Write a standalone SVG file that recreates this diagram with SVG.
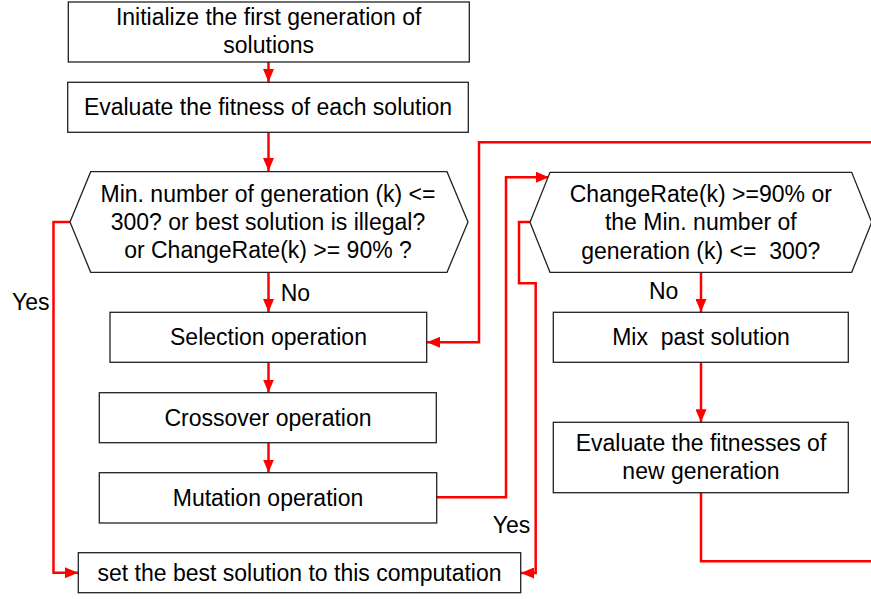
<svg xmlns="http://www.w3.org/2000/svg" width="871" height="599" viewBox="0 0 871 599">
<style>
.box{fill:#fff;stroke:#222;stroke-width:1.3}
.t{font-family:"Liberation Sans",Arial,sans-serif;font-size:23px;fill:#000;text-anchor:middle;white-space:pre}
.l{font-family:"Liberation Sans",Arial,sans-serif;font-size:23px;fill:#000}
.c{fill:none;stroke:#ff0000;stroke-width:2.5}
</style>
<defs>
<marker id="ah" markerUnits="userSpaceOnUse" markerWidth="13" markerHeight="11" refX="13" refY="5.5" orient="auto">
<path d="M0,0 L13,5.5 L0,11 z" fill="#ff0000"/>
</marker>
</defs>
<rect width="871" height="599" fill="#fff"/>
<g id="connectors">
<path class="c" d="M268.5,62 V82" marker-end="url(#ah)"/>
<path class="c" d="M268.5,132 V171" marker-end="url(#ah)"/>
<path class="c" d="M268.5,272 V312" marker-end="url(#ah)"/>
<path class="c" d="M268.5,362 V392.5" marker-end="url(#ah)"/>
<path class="c" d="M268.5,442.5 V472.5" marker-end="url(#ah)"/>
<path class="c" d="M70,222 H53.5 V572.7 H78" marker-end="url(#ah)"/>
<path class="c" d="M871,142.3 H479 V342.3 H427" marker-end="url(#ah)"/>
<path class="c" d="M436.5,497.3 H506 V177.3 H549" marker-end="url(#ah)"/>
<path class="c" d="M530,222 H519 V283.3 H535.7 V573 H521" marker-end="url(#ah)"/>
<path class="c" d="M701,272.3 V312" marker-end="url(#ah)"/>
<path class="c" d="M701,362.3 V422.3" marker-end="url(#ah)"/>
<path class="c" d="M701,492.7 V561.3 H871"/>
</g>
<g id="init">
<rect class="box" x="68.3" y="2" width="401" height="60"/>
<text class="t" x="268.7" y="25">Initialize the first generation of</text>
<text class="t" x="268.7" y="53">solutions</text>
</g>
<g id="evaluate">
<rect class="box" x="67.7" y="82.3" width="400.6" height="50"/>
<text class="t" x="268" y="115">Evaluate the fitness of each solution</text>
</g>
<g id="decision1">
<polygon class="box" points="70,222 90.7,171.7 447,171.7 468,222 447,272.3 90.7,272.3"/>
<text class="t" x="268" y="201.5">Min. number of generation (k) &lt;=</text>
<text class="t" x="268" y="230">300? or best solution is illegal?</text>
<text class="t" x="268" y="257.5">or ChangeRate(k) &gt;= 90% ?</text>
</g>
<g id="selection">
<rect class="box" x="110" y="312.3" width="316.7" height="50"/>
<text class="t" x="268.5" y="345">Selection operation</text>
</g>
<g id="crossover">
<rect class="box" x="99.3" y="392.7" width="337" height="50"/>
<text class="t" x="268" y="426">Crossover operation</text>
</g>
<g id="mutation">
<rect class="box" x="99.3" y="472.7" width="337.4" height="50.3"/>
<text class="t" x="268" y="506">Mutation operation</text>
</g>
<g id="setbest">
<rect class="box" x="78.3" y="552.7" width="442.4" height="40"/>
<text class="t" x="299.5" y="581">set the best solution to this computation</text>
</g>
<g id="decision2">
<polygon class="box" points="530,222.3 550,172.3 851.7,172.3 871.7,222.3 851.7,272.3 550,272.3"/>
<text class="t" x="700.8" y="202">ChangeRate(k) &gt;=90% or</text>
<text class="t" x="700.8" y="230">the Min. number of</text>
<text class="t" x="700.8" y="258.5" xml:space="preserve">generation (k) &lt;=  300?</text>
</g>
<g id="mix">
<rect class="box" x="553.3" y="312.3" width="295" height="50"/>
<text class="t" x="701" y="345" xml:space="preserve">Mix  past solution</text>
</g>
<g id="evalnew">
<rect class="box" x="553.3" y="422.3" width="295" height="70.4"/>
<text class="t" x="701" y="451">Evaluate the fitnesses of</text>
<text class="t" x="701" y="479">new generation</text>
</g>
<g id="labels">
<text class="l" x="12" y="310">Yes</text>
<text class="l" x="280.7" y="301">No</text>
<text class="l" x="649" y="299">No</text>
<text class="l" x="492.7" y="533">Yes</text>
</g>
</svg>
